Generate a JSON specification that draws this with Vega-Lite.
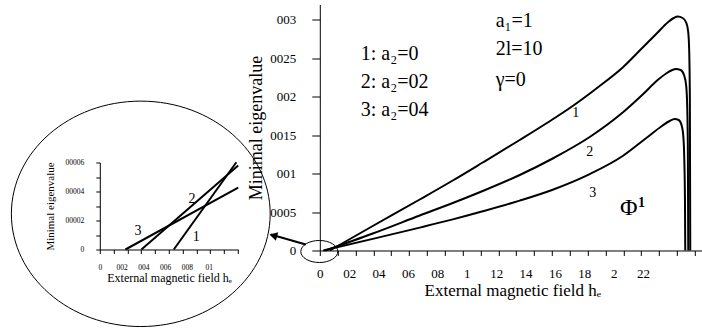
{
  "$schema": "https://vega.github.io/schema/vega-lite/v6.json",
  "padding": {"left": 8.8, "top": 4.5, "right": 0, "bottom": 3},
  "bounds": "flush",
  "spacing": 81,
  "background": "white",
  "config": {
    "view": {"stroke": null},
    "axis": {"grid": false, "domainColor": "black", "tickColor": "black", "labelColor": "black", "titleColor": "black", "labelFont": "Liberation Serif", "titleFont": "Liberation Serif", "titleFontWeight": "normal", "domainWidth": 1, "tickWidth": 1, "labelOverlap": false, "labelFlush": false},
    "text": {"font": "Liberation Serif", "color": "black"}
  },
  "datasets": {
    "main_curves": [
      {"curve": "1", "h": 0.068, "lambda": 0},
      {"curve": "1", "h": 0.3605, "lambda": 0.003187},
      {"curve": "1", "h": 0.6803, "lambda": 0.006634},
      {"curve": "1", "h": 0.9048, "lambda": 0.009106},
      {"curve": "1", "h": 1.1088, "lambda": 0.011447},
      {"curve": "1", "h": 1.3605, "lambda": 0.014374},
      {"curve": "1", "h": 1.551, "lambda": 0.01665},
      {"curve": "1", "h": 1.7211, "lambda": 0.018797},
      {"curve": "1", "h": 1.8912, "lambda": 0.021203},
      {"curve": "1", "h": 2.0612, "lambda": 0.023805},
      {"curve": "1", "h": 2.1973, "lambda": 0.026407},
      {"curve": "1", "h": 2.2993, "lambda": 0.028358},
      {"curve": "1", "h": 2.3673, "lambda": 0.029659},
      {"curve": "1", "h": 2.4082, "lambda": 0.030244},
      {"curve": "1", "h": 2.4354, "lambda": 0.030439},
      {"curve": "1", "h": 2.4694, "lambda": 0.030244},
      {"curve": "1", "h": 2.4932, "lambda": 0.029659},
      {"curve": "1", "h": 2.5068, "lambda": 0.028488},
      {"curve": "1", "h": 2.5136, "lambda": 0.026146},
      {"curve": "1", "h": 2.5184, "lambda": 0.019642},
      {"curve": "1", "h": 2.5211, "lambda": 0},
      {"curve": "2", "h": 0.038, "lambda": 0},
      {"curve": "2", "h": 0.3605, "lambda": 0.002211},
      {"curve": "2", "h": 0.6803, "lambda": 0.004553},
      {"curve": "2", "h": 0.9048, "lambda": 0.006179},
      {"curve": "2", "h": 1.1088, "lambda": 0.00774},
      {"curve": "2", "h": 1.3605, "lambda": 0.009821},
      {"curve": "2", "h": 1.585, "lambda": 0.011967},
      {"curve": "2", "h": 1.8367, "lambda": 0.014764},
      {"curve": "2", "h": 2.0612, "lambda": 0.017951},
      {"curve": "2", "h": 2.1973, "lambda": 0.020293},
      {"curve": "2", "h": 2.2993, "lambda": 0.022179},
      {"curve": "2", "h": 2.3673, "lambda": 0.023154},
      {"curve": "2", "h": 2.4218, "lambda": 0.02361},
      {"curve": "2", "h": 2.4558, "lambda": 0.02348},
      {"curve": "2", "h": 2.4796, "lambda": 0.022764},
      {"curve": "2", "h": 2.4932, "lambda": 0.021463},
      {"curve": "2", "h": 2.5, "lambda": 0.018992},
      {"curve": "2", "h": 2.5048, "lambda": 0.013138},
      {"curve": "2", "h": 2.5075, "lambda": 0},
      {"curve": "3", "h": 0.0238, "lambda": 0},
      {"curve": "3", "h": 0.3605, "lambda": 0.001509},
      {"curve": "3", "h": 0.6803, "lambda": 0.002979},
      {"curve": "3", "h": 0.9048, "lambda": 0.004046},
      {"curve": "3", "h": 1.1088, "lambda": 0.005099},
      {"curve": "3", "h": 1.3605, "lambda": 0.006491},
      {"curve": "3", "h": 1.585, "lambda": 0.007909},
      {"curve": "3", "h": 1.8367, "lambda": 0.009938},
      {"curve": "3", "h": 2.0612, "lambda": 0.012293},
      {"curve": "3", "h": 2.2177, "lambda": 0.014569},
      {"curve": "3", "h": 2.3333, "lambda": 0.01626},
      {"curve": "3", "h": 2.381, "lambda": 0.016846},
      {"curve": "3", "h": 2.415, "lambda": 0.017106},
      {"curve": "3", "h": 2.4422, "lambda": 0.016976},
      {"curve": "3", "h": 2.4626, "lambda": 0.01626},
      {"curve": "3", "h": 2.4728, "lambda": 0.015089},
      {"curve": "3", "h": 2.4796, "lambda": 0.012488},
      {"curve": "3", "h": 2.485, "lambda": 0.006634},
      {"curve": "3", "h": 2.4871, "lambda": 0}
    ],
    "inset_curves": [
      {"curve": "1", "h": 0.0679, "lambda": 0},
      {"curve": "1", "h": 0.1253, "lambda": 0.000602},
      {"curve": "2", "h": 0.0382, "lambda": 0},
      {"curve": "2", "h": 0.127, "lambda": 0.000579},
      {"curve": "3", "h": 0.0235, "lambda": 0},
      {"curve": "3", "h": 0.127, "lambda": 0.000426}
    ],
    "main_curve_labels": [
      {"h": 1.741, "lambda": 0.01795, "label": "1"},
      {"h": 1.837, "lambda": 0.01275, "label": "2"},
      {"h": 1.857, "lambda": 0.00754, "label": "3"}
    ],
    "main_list": [
      {"h": 0.279, "lambda": 0.0255, "label": "1: a₂=0"},
      {"h": 0.279, "lambda": 0.02198, "label": "2: a₂=02"},
      {"h": 0.279, "lambda": 0.01834, "label": "3: a₂=04"}
    ],
    "main_params": [
      {"h": 1.197, "lambda": 0.02985, "label": "a₁=1"},
      {"h": 1.197, "lambda": 0.02615, "label": "2l=10"},
      {"h": 1.197, "lambda": 0.02224, "label": "γ=0"}
    ],
    "main_phi": [{"h": 2.102, "lambda": 0.00559, "label": "Φ"}],
    "main_phi_sup": [{"h": 2.19, "lambda": 0.00624, "label": "1"}],
    "zoom_mark": [{"h": -0.0034, "lambda": -0.00013}],
    "arrow": [{"h": -0.0952, "lambda": 0.00078, "h2": -0.3333, "lambda2": 0.00208}],
    "arrow_head": [{"h": -0.3163, "lambda": 0.00195}],
    "inset_labels": [
      {"h": 0.0351, "lambda": 0.000126, "label": "3"},
      {"h": 0.0847, "lambda": 0.00035, "label": "2"},
      {"h": 0.0886, "lambda": 0.0000876, "label": "1"}
    ],
    "inset_circle": [{"h": 0.0376, "lambda": 0.000246}]
  },
  "hconcat": [
    {
      "width": 138.4,
      "height": 246,
      "layer": [
        {
          "data": {"name": "inset_curves"},
          "mark": {"type": "line", "color": "black", "strokeWidth": 2},
          "encoding": {
            "x": {"field": "h", "type": "quantitative", "scale": {"domain": [0, 0.127], "nice": false, "zero": false},
              "axis": {"orient": "bottom", "offset": -1, "values": [0, 0.02, 0.04, 0.06, 0.08, 0.1], "ticks": false, "tickSize": 0, "labelPadding": 14, "labelFontSize": 7.5, "labelExpr": "replace(format(datum.value,'~g'),'.','')", "title": "External magnetic field hₑ", "titleFontSize": 12, "titlePadding": 2}},
            "y": {"field": "lambda", "type": "quantitative", "scale": {"domain": [0, 0.0006], "range": [245, 158], "nice": false},
              "axis": {"values": [0, 0.0001, 0.0002, 0.0003, 0.0004, 0.0005, 0.0006], "tickSize": 4, "labelPadding": 12, "labelFontSize": 7.5, "labelExpr": "round(datum.value*10000) % 2 == 0 ? replace(format(datum.value,'~g'),'.','') : ''", "title": "Minimal eigenvalue", "titleFontSize": 11, "titlePadding": 10}},
            "detail": {"field": "curve"}
          }
        },
        {
          "data": {"name": "inset_labels"},
          "mark": {"type": "text", "font": "Liberation Serif", "fontSize": 14, "baseline": "middle", "align": "center"},
          "encoding": {
            "x": {"field": "h", "type": "quantitative",
              "axis": {"orient": "bottom", "offset": -1, "values": [0, 0.01266, 0.02532, 0.03798, 0.05064, 0.0633, 0.07596, 0.08862, 0.10128, 0.11394, 0.1266], "labels": false, "domain": false, "tickSize": 4, "title": null}},
            "y": {"field": "lambda", "type": "quantitative"},
            "text": {"field": "label"}
          }
        },
        {
          "data": {"name": "inset_circle"},
          "mark": {"type": "point", "shape": "M-1,0A1,0.871,0,1,1,1,0A1,0.871,0,1,1,-1,0", "size": 66977, "filled": false, "stroke": "black", "strokeWidth": 1, "opacity": 1},
          "encoding": {
            "x": {"field": "h", "type": "quantitative", "axis": null},
            "y": {"field": "lambda", "type": "quantitative"}
          }
        }
      ],
      "resolve": {"axis": {"x": "independent"}}
    },
    {
      "width": 385,
      "height": 246,
      "layer": [
        {
          "data": {"name": "main_curves"},
          "mark": {"type": "line", "interpolate": "monotone", "color": "black", "strokeWidth": 2},
          "encoding": {
            "x": {"field": "h", "type": "quantitative", "scale": {"domain": [0, 2.62], "nice": false, "zero": false},
              "axis": {"orient": "bottom", "values": [0, 0.2, 0.4, 0.6, 0.8, 1, 1.2, 1.4, 1.6, 1.8, 2, 2.2], "ticks": false, "tickSize": 0, "labelPadding": 17, "labelFontSize": 13, "labelExpr": "replace(format(datum.value,'~g'),'.','')", "title": "External magnetic field hₑ", "titleFontSize": 17, "titlePadding": 2}},
            "y": {"field": "lambda", "type": "quantitative", "scale": {"domain": [0, 0.032], "nice": false},
              "axis": {"values": [0, 0.0025, 0.005, 0.0075, 0.01, 0.0125, 0.015, 0.0175, 0.02, 0.0225, 0.025, 0.0275, 0.03], "tickSize": 8, "labelPadding": 16, "labelFontSize": 13, "labelExpr": "round(datum.value*2000) % 10 == 0 ? replace(format(datum.value,'~g'),'.','') : ''", "title": "Minimal eigenvalue", "titleFontSize": 18, "titlePadding": 4}},
            "detail": {"field": "curve"}
          }
        },
        {
          "data": {"name": "main_curve_labels"},
          "mark": {"type": "text", "font": "Liberation Serif", "fontSize": 14, "baseline": "middle", "align": "center"},
          "encoding": {
            "x": {"field": "h", "type": "quantitative",
              "axis": {"orient": "bottom", "values": [0, 0.1215, 0.243, 0.3645, 0.486, 0.6075, 0.729, 0.8505, 0.972, 1.0935, 1.215, 1.3365, 1.458, 1.5795, 1.701, 1.8225, 1.944, 2.0655, 2.187, 2.3085, 2.43, 2.5515], "labels": false, "domain": false, "tickSize": 5, "title": null}},
            "y": {"field": "lambda", "type": "quantitative"},
            "text": {"field": "label"}
          }
        },
        {
          "data": {"name": "main_list"},
          "mark": {"type": "text", "font": "Liberation Serif", "fontSize": 20, "baseline": "middle", "align": "left"},
          "encoding": {
            "x": {"field": "h", "type": "quantitative", "axis": null},
            "y": {"field": "lambda", "type": "quantitative"},
            "text": {"field": "label"}
          }
        },
        {
          "data": {"name": "main_params"},
          "mark": {"type": "text", "font": "Liberation Serif", "fontSize": 20, "baseline": "middle", "align": "left"},
          "encoding": {
            "x": {"field": "h", "type": "quantitative", "axis": null},
            "y": {"field": "lambda", "type": "quantitative"},
            "text": {"field": "label"}
          }
        },
        {
          "data": {"name": "main_phi"},
          "mark": {"type": "text", "font": "Liberation Serif", "fontSize": 24, "baseline": "middle", "align": "center"},
          "encoding": {
            "x": {"field": "h", "type": "quantitative", "axis": null},
            "y": {"field": "lambda", "type": "quantitative"},
            "text": {"field": "label"}
          }
        },
        {
          "data": {"name": "main_phi_sup"},
          "mark": {"type": "text", "font": "Liberation Serif", "fontSize": 14, "fontWeight": "bold", "baseline": "middle", "align": "center"},
          "encoding": {
            "x": {"field": "h", "type": "quantitative", "axis": null},
            "y": {"field": "lambda", "type": "quantitative"},
            "text": {"field": "label"}
          }
        },
        {
          "data": {"name": "zoom_mark"},
          "mark": {"type": "point", "shape": "M-1,0A1,0.595,0,1,1,1,0A1,0.595,0,1,1,-1,0", "size": 1369, "filled": false, "stroke": "black", "strokeWidth": 1, "opacity": 1},
          "encoding": {
            "x": {"field": "h", "type": "quantitative", "axis": null},
            "y": {"field": "lambda", "type": "quantitative"}
          }
        },
        {
          "data": {"name": "arrow"},
          "mark": {"type": "rule", "color": "black", "strokeWidth": 2},
          "encoding": {
            "x": {"field": "h", "type": "quantitative", "axis": null},
            "y": {"field": "lambda", "type": "quantitative"},
            "x2": {"field": "h2"},
            "y2": {"field": "lambda2"}
          }
        },
        {
          "data": {"name": "arrow_head"},
          "mark": {"type": "point", "shape": "triangle-up", "size": 80, "filled": true, "color": "black", "angle": 285.5, "opacity": 1},
          "encoding": {
            "x": {"field": "h", "type": "quantitative", "axis": null},
            "y": {"field": "lambda", "type": "quantitative"}
          }
        }
      ],
      "resolve": {"axis": {"x": "independent"}}
    }
  ]
}
